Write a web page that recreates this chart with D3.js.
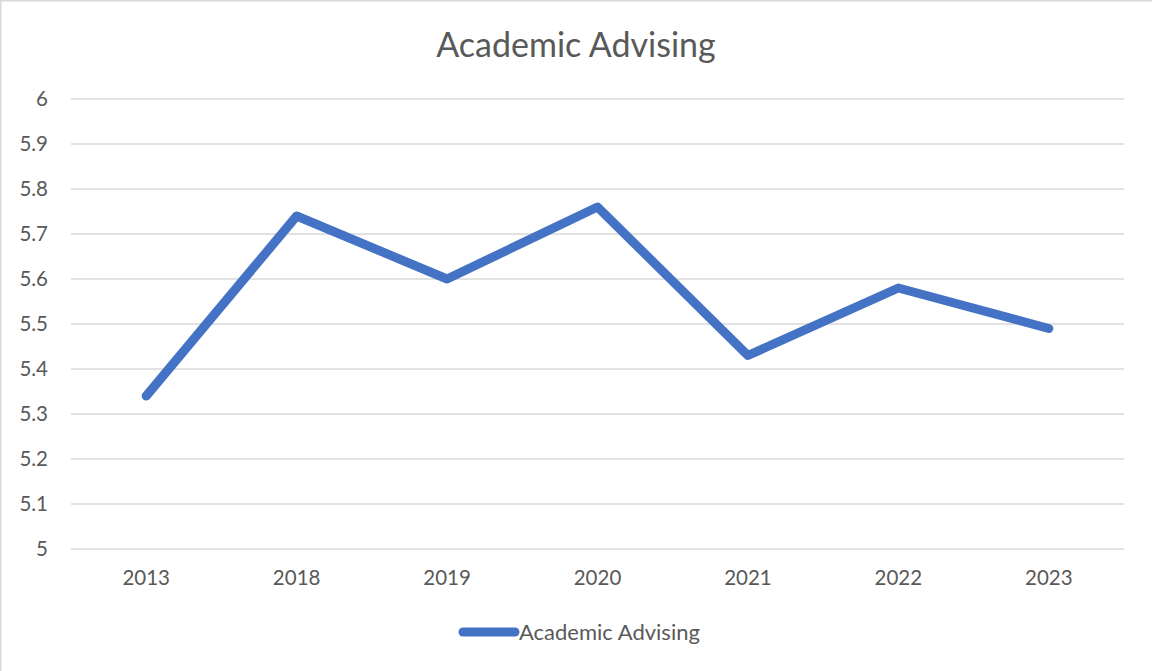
<!DOCTYPE html>
<html>
<head>
<meta charset="utf-8">
<script src="https://cdn.jsdelivr.net/npm/d3@7"></script>
<style>
  body { margin: 0; background: #fff; }
  text { font-family: Lato, "Open Sans", sans-serif; fill: #595959; }
</style>
</head>
<body>
<svg id="canvas" width="1152" height="671"></svg>
<script>
/********** Data *********/
var years = ["2013", "2018", "2019", "2020", "2021", "2022", "2023"];
var scores = [5.34, 5.74, 5.60, 5.76, 5.43, 5.58, 5.49];
var yTicks = [5, 5.1, 5.2, 5.3, 5.4, 5.5, 5.6, 5.7, 5.8, 5.9, 6];
var seriesName = "Academic Advising";

/********** Setup *********/
var svg = d3.select("#canvas");
var width = +svg.attr("width");
var height = +svg.attr("height");
var blue = "#4472C4";

var margin = {left: 71, right: 28, top: 99, bottom: 122};

// chart border
svg.append("rect")
    .attr("x", 0.5).attr("y", 0.5)
    .attr("width", width + 10).attr("height", height + 10)
    .attr("fill", "none")
    .attr("stroke", "#d9d9d9")
    .attr("stroke-width", 2);

var x = d3.scaleBand()
    .domain(years)
    .range([margin.left, width - margin.right]);

var y = d3.scaleLinear()
    .domain([5, 6])
    .range([height - margin.bottom, margin.top]);

/********** Gridlines *********/
svg.append("g")
    .selectAll("line")
    .data(yTicks)
    .enter()
    .append("line")
    .attr("x1", margin.left)
    .attr("x2", width - margin.right)
    .attr("y1", function(d) { return y(d); })
    .attr("y2", function(d) { return y(d); })
    .attr("stroke", "#d9d9d9")
    .attr("stroke-width", 1.5);

/********** Axes labels *********/
var yAxis = d3.axisLeft(y).tickValues(yTicks).tickSize(0).tickPadding(23)
    .tickFormat(function(d) { return d3.format("")(+d.toFixed(1)); });
var gy = svg.append("g")
    .attr("transform", "translate(" + margin.left + ",0)")
    .call(yAxis);
gy.select(".domain").remove();
gy.selectAll("text").style("font-size", "20.5px").attr("fill", "#595959");

var xAxis = d3.axisBottom(x).tickSize(0).tickPadding(21);
var gx = svg.append("g")
    .attr("transform", "translate(0," + (height - margin.bottom) + ")")
    .call(xAxis);
gx.select(".domain").remove();
gx.selectAll("text").style("font-size", "20.5px").attr("fill", "#595959");

/********** Line *********/
var line = d3.line()
    .x(function(d, i) { return x(years[i]) + x.bandwidth() / 2; })
    .y(function(d) { return y(d); });

svg.append("path")
    .datum(scores)
    .attr("d", line)
    .attr("fill", "none")
    .attr("stroke", blue)
    .attr("stroke-width", 9)
    .attr("stroke-linecap", "round")
    .attr("stroke-linejoin", "round");

/********** Title *********/
svg.append("text")
    .attr("x", width / 2)
    .attr("y", 57)
    .attr("text-anchor", "middle")
    .style("font-size", "34px")
    .text(seriesName);

/********** Legend *********/
var legend = svg.append("g").attr("transform", "translate(463,632)");
legend.append("line")
    .attr("x1", 0).attr("x2", 52)
    .attr("stroke", blue)
    .attr("stroke-width", 9)
    .attr("stroke-linecap", "round");
legend.append("text")
    .attr("x", 56)
    .attr("y", 8)
    .style("font-size", "22px")
    .text(seriesName);
</script>
</body>
</html>
